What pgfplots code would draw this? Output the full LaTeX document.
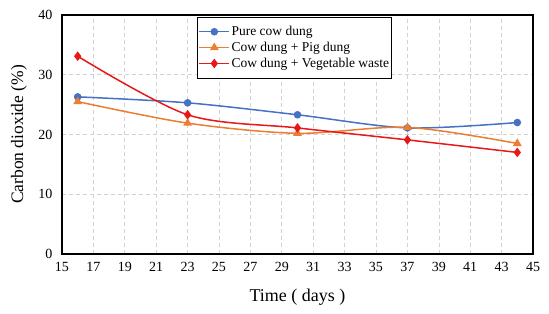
\documentclass[border=0pt]{standalone}
\usepackage{pgfplots}
\pgfplotsset{compat=1.18}
\usepackage{fontspec}
\setmainfont{Liberation Serif}
\definecolor{cblue}{HTML}{4472C4}
\definecolor{corange}{HTML}{ED7D31}
\definecolor{cred}{HTML}{E81818}
\begin{document}
\begin{tikzpicture}
\begin{axis}[
  scale only axis,
  width=471pt, height=239pt,
  xmin=15, xmax=45, ymin=0, ymax=40,
  xtick={15,17,...,45},
  ytick={0,10,20,30,40},
  major tick length=0pt,
  grid=major,
  major grid style={dash pattern=on 4pt off 3pt, gray!35, line width=0.6pt},
  axis line style={black, line width=1.1pt},
  /pgf/number format/assume math mode=true,
  tick label style={font=\fontsize{14}{16}\selectfont},
  xticklabel style={yshift=-5pt},
  yticklabel style={xshift=-6pt},
  xlabel={Time ( days )},
  ylabel={Carbon dioxide (\%)},
  label style={font=\fontsize{18}{20}\selectfont},
  ylabel style={font=\fontsize{17.5}{20}\selectfont},
  xlabel style={at={(axis description cs:0.5,-0.18)}, anchor=center},
  ylabel style={at={(axis description cs:-0.0913,0.5)}, anchor=center},
  legend style={at={(0.287,0.992)}, anchor=north west, draw=black, line width=0.8pt, fill=white,
    font=\fontsize{13.5}{14}\selectfont, row sep=2pt, inner xsep=1pt, inner ysep=7.5pt,
    nodes={inner sep=1.5pt}},
  legend cell align=left,
  legend image code/.code={\draw[#1] (0pt,0pt) -- (30pt,0pt); \draw[#1,mark repeat=2,mark phase=2] plot coordinates {(0pt,0pt) (15pt,0pt) (30pt,0pt)};},
]
\addplot[cblue, line width=1.5pt, smooth, mark=*, mark size=3pt, mark options={solid,fill=cblue}]
  coordinates {(16,26.3) (23,25.3) (30,23.3) (37,21.1) (44,22.0)};
\addlegendentry{Pure cow dung}
\addplot[corange, line width=1.5pt, smooth, mark=triangle*, mark size=3.6pt, mark options={solid,fill=corange}]
  coordinates {(16,25.5) (23,21.9) (30,20.2) (37,21.2) (44,18.5)};
\addlegendentry{Cow dung + Pig dung}
\addplot[cred, line width=1.5pt, smooth, mark=diamond*, mark size=3.6pt, mark options={solid,fill=cred}]
  coordinates {(16,33.1) (23,23.3) (30,21.1) (37,19.1) (44,17.0)};
\addlegendentry{Cow dung + Vegetable waste}
\end{axis}
\pgfresetboundingbox
\path ([shift={(-62pt,-60pt)}]current axis.south west) rectangle ([shift={(16pt,15pt)}]current axis.north east);
\end{tikzpicture}
\end{document}
